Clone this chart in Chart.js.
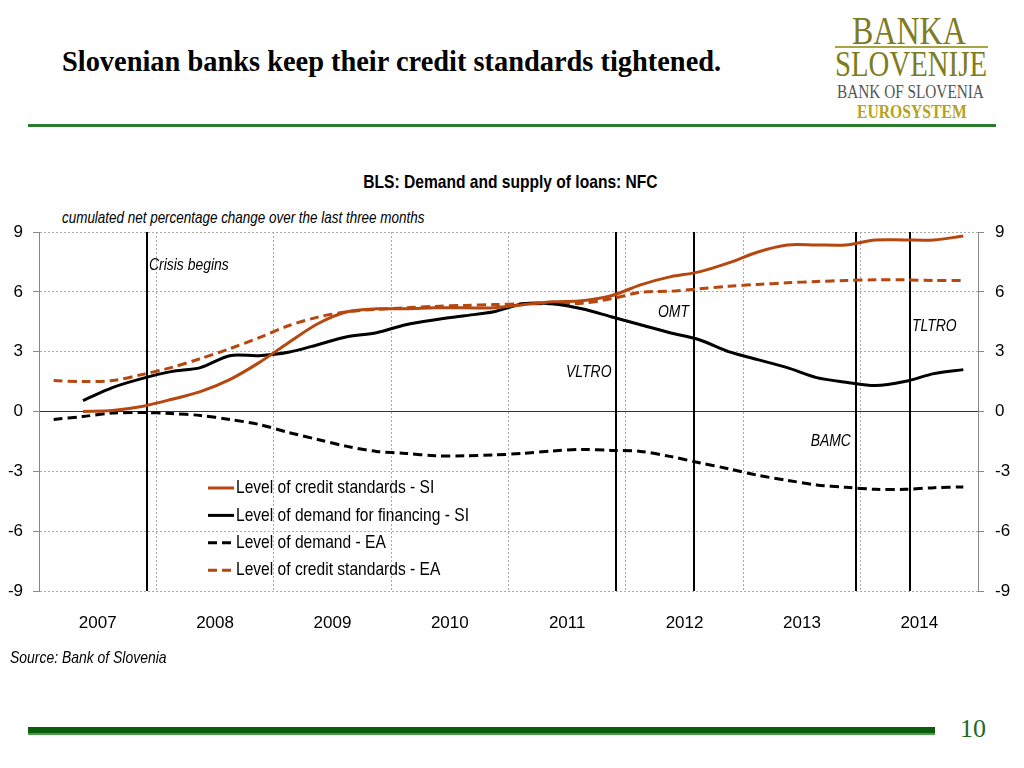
<!DOCTYPE html>
<html>
<head>
<meta charset="utf-8">
<script src="https://cdn.jsdelivr.net/npm/chart.js@4.4.1/dist/chart.umd.min.js"></script>
<style>
  body { margin: 0; width: 1024px; height: 768px; background: #fff; position: relative; overflow: hidden;
         font-family: 'Liberation Sans', Arial, sans-serif; }
  .abs { position: absolute; white-space: nowrap; }
  .narrow { display: inline-block; transform: scaleX(0.82); transform-origin: left top; }
  .serif { font-family: 'Liberation Serif', 'Times New Roman', serif; line-height: 1; transform-origin: left top; }
  #title { left: 62px; top: 47px; font: bold 28.4px/30px 'Liberation Serif', serif; color: #000; }
  #chartTitle { left: 0; width: 1020px; text-align: center; top: 172px; font-weight: bold; font-size: 19px; line-height: 20px; }
  #chartTitle span { display: inline-block; transform: scaleX(0.82); transform-origin: center top; }
  #subTitle { left: 62px; top: 208px; font-style: italic; font-size: 16.4px; line-height: 18px; }
  #source { left: 10px; top: 649px; font-style: italic; font-size: 17px; line-height: 18px; }
  #chartBox { position: absolute; left: 0; top: 200px; width: 1024px; height: 450px; }
</style>
</head>
<body>
<div class="abs" id="title">Slovenian banks keep their credit standards tightened.</div>

<div class="abs serif" style="left:852px; top:11px; font-size:40px; color:#7e7c22; transform:scaleX(0.8);">BANKA</div>
<div class="abs" style="left:835px; top:46px; width:153px; height:2px; background:#a9a542;"></div>
<div class="abs serif" style="left:835px; top:46px; font-size:36px; color:#7e7c22; transform:scaleX(0.8);">SLOVENIJE</div>
<div class="abs serif" style="left:837px; top:82px; font-size:19.6px; color:#555; transform:scaleX(0.78);">BANK OF SLOVENIA</div>
<div class="abs serif" style="left:857px; top:102px; font-size:19.6px; font-weight:bold; color:#b3a321; transform:scaleX(0.8);">EUROSYSTEM</div>
<div class="abs" style="left:28px; top:124px; width:968px; height:3px; background:#2b7b2b;"></div>

<div class="abs" id="chartTitle"><span>BLS: Demand and supply of loans: NFC</span></div>
<div class="abs" id="subTitle"><span class="narrow">cumulated net percentage change over the last three months</span></div>

<div id="chartBox"><canvas id="myChart"></canvas></div>

<div class="abs" id="source"><span class="narrow">Source: Bank of Slovenia</span></div>
<div class="abs" style="left:28px; top:727px; width:907px; height:6px; background:#0b5c0b; border-bottom:2px solid #4a9a4a;"></div>
<div class="abs serif" style="left:960px; top:716px; font-size:26px; color:#1e6b1e;">10</div>

<script>
const quarters = [
  "2007Q1", "2007Q2", "2007Q3", "2007Q4", "2008Q1", "2008Q2", "2008Q3", "2008Q4",
  "2009Q1", "2009Q2", "2009Q3", "2009Q4", "2010Q1", "2010Q2", "2010Q3", "2010Q4",
  "2011Q1", "2011Q2", "2011Q3", "2011Q4", "2012Q1", "2012Q2", "2012Q3", "2012Q4",
  "2013Q1", "2013Q2", "2013Q3", "2013Q4", "2014Q1", "2014Q2", "2014Q3", "2014Q4",
];
const yearLabels = ["2007", "2008", "2009", "2010", "2011", "2012", "2013", "2014"];

// cumulated net percentage change
const creditStandardsSI = [
  null, 0, 0.05, 0.25, 0.6, 1.0, 1.6, 2.45,
  3.45, 4.4, 5.0, 5.15, 5.15, 5.2, 5.2, 5.2,
  5.35, 5.5, 5.55, 5.8, 6.35, 6.75, 7.0, 7.45,
  8.0, 8.35, 8.35, 8.35, 8.6, 8.6, 8.6, 8.8,
];
const demandFinancingSI = [
  null, 0.55, 1.2, 1.65, 2.0, 2.2, 2.8, 2.8,
  2.97, 3.35, 3.75, 3.95, 4.35, 4.6, 4.8, 5.0,
  5.4, 5.4, 5.15, 4.75, 4.35, 3.95, 3.6, 3.0,
  2.6, 2.2, 1.7, 1.47, 1.3, 1.5, 1.9, 2.1,
];
const demandEA = [
  -0.4, -0.25, -0.08, -0.05, -0.1, -0.2, -0.4, -0.65,
  -1.05, -1.4, -1.75, -2.0, -2.1, -2.22, -2.22, -2.18,
  -2.1, -1.98, -1.9, -1.95, -2.0, -2.25, -2.57, -2.87,
  -3.2, -3.45, -3.68, -3.8, -3.9, -3.9, -3.82, -3.78,
];
const creditStandardsEA = [
  1.55, 1.5, 1.55, 1.85, 2.2, 2.65, 3.15, 3.7,
  4.3, 4.73, 5.0, 5.12, 5.2, 5.27, 5.32, 5.36,
  5.4, 5.4, 5.43, 5.65, 5.98, 6.03, 6.15, 6.28,
  6.37, 6.45, 6.52, 6.57, 6.6, 6.6, 6.57, 6.57,
];

// policy events (decimal year) and their labels
const eventDates = [2007.92, 2011.92, 2012.58, 2013.96, 2014.42];
const eventNames = ["Crisis begins", "VLTRO", "OMT", "BAMC", "TLTRO"];
const eventLabelY = [7.32, 1.95, 5.0, -1.5, 4.26];
const eventLabelSide = ["right", "left", "left", "left", "right"];

const FONT = "'Liberation Sans', Arial, sans-serif";
const ORANGE = "#b5470f";
const GRID = "#aaaaaa";
const SQUEEZE = 0.82; // mimic a narrow typeface

function quarterX(q) {
  return parseInt(q.slice(0, 4)) + (parseInt(q.slice(5)) - 0.5) / 4;
}
function points(values) {
  return quarters.map((q, i) => ({ x: quarterX(q), y: values[i] }));
}

// draw squeezed text, x is the left edge or right edge depending on align
function narrowText(ctx, text, x, y, align) {
  const w = ctx.measureText(text).width * SQUEEZE;
  const left = align === "right" ? x - w : x;
  ctx.save();
  ctx.translate(left, y);
  ctx.scale(SQUEEZE, 1);
  ctx.textAlign = "left";
  ctx.fillText(text, 0, 0);
  ctx.restore();
}

const eventsPlugin = {
  id: "events",
  beforeDatasetsDraw(chart) {
    const { ctx, chartArea, scales } = chart;
    ctx.save();
    ctx.strokeStyle = "#000";
    ctx.lineWidth = 2;
    eventDates.forEach((d) => {
      const px = Math.round(scales.x.getPixelForValue(d));
      ctx.beginPath();
      ctx.moveTo(px, chartArea.top);
      ctx.lineTo(px, chartArea.bottom);
      ctx.stroke();
    });
    ctx.restore();
  },
  afterDatasetsDraw(chart) {
    const { ctx, chartArea, scales } = chart;
    ctx.save();
    ctx.fillStyle = "#000";
    ctx.font = "italic 17px " + FONT;
    ctx.textBaseline = "middle";
    eventDates.forEach((d, i) => {
      const px = scales.x.getPixelForValue(d);
      const py = scales.y.getPixelForValue(eventLabelY[i]);
      if (eventLabelSide[i] === "right") {
        narrowText(ctx, eventNames[i], px + 2, py, "left");
      } else {
        narrowText(ctx, eventNames[i], px - 5, py, "right");
      }
    });

    // legend inside the plot
    const x0 = chartArea.left + 169;
    const y0 = chartArea.top + 256;
    ctx.font = "19px " + FONT;
    chart.data.datasets.forEach((ds, i) => {
      const y = y0 + i * 27.4;
      ctx.strokeStyle = ds.borderColor;
      ctx.lineWidth = 3;
      ctx.setLineDash(ds.borderDash || []);
      ctx.beginPath();
      ctx.moveTo(x0, y);
      ctx.lineTo(x0 + 26, y);
      ctx.stroke();
      narrowText(ctx, ds.label, x0 + 28, y, "left");
    });
    ctx.restore();
  },
};

const myChart1 = document.getElementById("myChart");

var myChart = new Chart(myChart1, {
  type: "line",
  data: {
    datasets: [
      {
        label: "Level of credit standards - SI",
        data: points(creditStandardsSI),
        borderColor: ORANGE,
        borderWidth: 3,
      },
      {
        label: "Level of demand for financing - SI",
        data: points(demandFinancingSI),
        borderColor: "#000",
        borderWidth: 3,
      },
      {
        label: "Level of demand - EA",
        data: points(demandEA),
        borderColor: "#000",
        borderWidth: 3,
        borderDash: [9, 5],
      },
      {
        label: "Level of credit standards - EA",
        data: points(creditStandardsEA),
        borderColor: ORANGE,
        borderWidth: 3,
        borderDash: [9, 5],
      },
    ],
  },
  options: {
    responsive: true,
    maintainAspectRatio: false,
    animation: false,
    layout: { padding: { top: 32, left: 0, right: 0, bottom: 0 } },
    elements: {
      point: { radius: 0 },
      line: { tension: 0.3, fill: false },
    },
    plugins: {
      legend: { display: false },
      tooltip: { enabled: false },
    },
    scales: {
      x: {
        type: "linear",
        min: 2007,
        max: 2015,
        ticks: { display: false, stepSize: 1 },
        grid: { color: GRID, drawTicks: false },
        border: { display: false, dash: [2, 2] },
        afterFit: (s) => { s.height = 0; },
      },
      // year labels sit in the middle of each year
      xLabels: {
        type: "linear",
        position: "bottom",
        min: 2006.5,
        max: 2014.5,
        afterBuildTicks: (s) => {
          s.ticks = yearLabels.map((y) => ({ value: Number(y) }));
        },
        ticks: {
          autoSkip: false,
          maxRotation: 0,
          padding: 22,
          color: "#000",
          font: { family: FONT, size: 17 },
          callback: (v) => String(v),
        },
        grid: { display: false, drawTicks: false },
        border: { display: false },
        afterFit: (s) => { s.height = 59; },
      },
      y: {
        min: -9,
        max: 9,
        ticks: {
          stepSize: 3,
          padding: 10,
          color: "#000",
          font: { family: FONT, size: 17 },
        },
        grid: {
          color: (c) => (c.tick && c.tick.value === 0 ? "#333" : GRID),
          tickLength: 6,
          tickColor: "#888",
        },
        border: {
          color: "#888",
          dash: (c) => (c.tick && c.tick.value !== 0 ? [2, 2] : []),
        },
        afterFit: (s) => { s.width = 39; },
      },
      y2: {
        position: "right",
        min: -9,
        max: 9,
        ticks: {
          stepSize: 3,
          padding: 11,
          color: "#000",
          font: { family: FONT, size: 17 },
        },
        grid: { drawOnChartArea: false, tickLength: 6, tickColor: "#888" },
        border: { color: "#888" },
        afterFit: (s) => { s.width = 46; },
      },
    },
  },
  plugins: [eventsPlugin],
});
</script>
</body>
</html>
